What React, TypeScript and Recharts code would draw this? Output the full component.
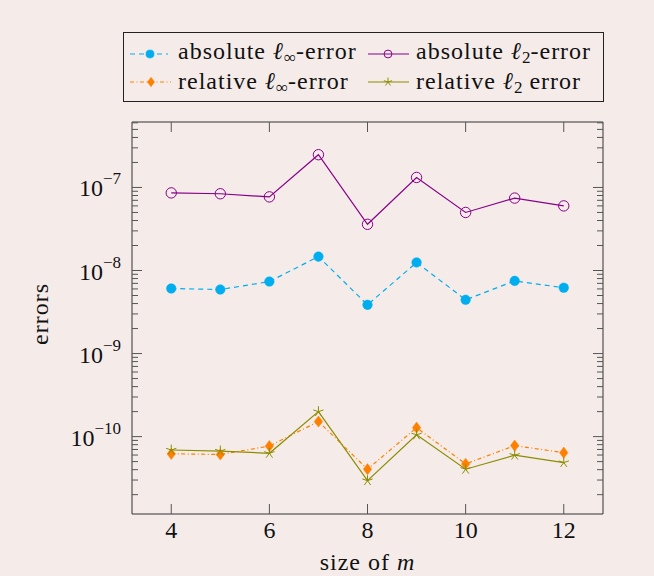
import React from "react";
import { LineChart, Line, XAxis, YAxis, Legend } from "recharts";

// size of m
const sizes = [4, 5, 6, 7, 8, 9, 10, 11, 12];
// errors
const absInf = [6.07e-9, 5.9e-9, 7.36e-9, 1.47e-8, 3.86e-9, 1.25e-8, 4.44e-9, 7.5e-9, 6.2e-9];
const absL2 = [8.6e-8, 8.4e-8, 7.7e-8, 2.48e-7, 3.6e-8, 1.32e-7, 5.0e-8, 7.45e-8, 6.0e-8];
const relInf = [6.2e-11, 6.1e-11, 7.7e-11, 1.52e-10, 4.05e-11, 1.28e-10, 4.69e-11, 7.8e-11, 6.4e-11];
const relL2 = [6.9e-11, 6.7e-11, 6.3e-11, 2.0e-10, 2.95e-11, 1.05e-10, 4.05e-11, 5.97e-11, 4.87e-11];

const xTicks = [4, 6, 8, 10, 12];
const yExponents = [-11, -10, -9, -8, -7];
const yLabelExponents = [-10, -9, -8, -7];
const mantissas = [1, 2, 3, 4, 5, 6, 7, 8, 9];

const X_DOMAIN = [3.2, 12.8];
const Y_DOMAIN = [1.17e-11, 6.14e-7];

const FONT = "Liberation Serif";
const BG = "#f5ecea";
const TICK = "#555";
const FRAME = "#333";
const INK = "#111";

const serif = (size: number, spacing = 0) => ({
  fontFamily: FONT,
  fontSize: size,
  letterSpacing: spacing,
});

const data = sizes.map((m, i) => ({
  m,
  absInf: absInf[i],
  absL2: absL2[i],
  relInf: relInf[i],
  relL2: relL2[i],
}));

const yTicks: number[] = [];
yExponents.forEach((e) => {
  mantissas.forEach((k) => {
    const v = k * Math.pow(10, e);
    if (v >= Y_DOMAIN[0] && v <= Y_DOMAIN[1]) yTicks.push(v);
  });
});

function isMajor(v: number) {
  const l = Math.log10(v);
  return Math.abs(l - Math.round(l)) < 1e-6;
}

function LeftTick(props: any) {
  const { x, y, payload } = props;
  const v = payload.value;
  const major = isMajor(v);
  const e = Math.round(Math.log10(v));
  const showLabel = major && yLabelExponents.includes(e);
  return (
    <g>
      <line x1={x} x2={x + (major ? 10 : 6)} y1={y} y2={y} stroke={TICK} strokeWidth={1} />
      {showLabel && (
        <text x={x - 11} y={y + 9} textAnchor="end" fill={INK} style={serif(24)}>
          10
          <tspan dy={-12} style={serif(17)}>
            {"\u2212" + String(-e)}
          </tspan>
        </text>
      )}
    </g>
  );
}

function RightTick(props: any) {
  const { x, y, payload } = props;
  const major = isMajor(payload.value);
  return <line x1={x} x2={x - (major ? 10 : 6)} y1={y} y2={y} stroke={TICK} strokeWidth={1} />;
}

function BottomTick(props: any) {
  const { x, y, payload } = props;
  return (
    <g>
      <line x1={x} x2={x} y1={y} y2={y - 10} stroke={TICK} strokeWidth={1} />
      <text x={x} y={y + 24} textAnchor="middle" fill={INK} style={serif(24)}>
        {payload.value}
      </text>
    </g>
  );
}

function TopTick(props: any) {
  const { x, y } = props;
  return <line x1={x} x2={x} y1={y} y2={y + 10} stroke={TICK} strokeWidth={1} />;
}

function XTitle(props: any) {
  const { viewBox } = props;
  const cx = viewBox.x + viewBox.width / 2;
  return (
    <text x={cx} y={570} textAnchor="middle" fill={INK} style={serif(24, 1)}>
      size of <tspan fontStyle="italic">m</tspan>
    </text>
  );
}

function YTitle() {
  return (
    <text x={48} y={314} transform="rotate(-90 48 314)" textAnchor="middle" fill={INK} style={serif(24, 1)}>
      errors
    </text>
  );
}

function FilledCircle(props: any) {
  const { cx, cy, size = 1 } = props;
  return <circle cx={cx} cy={cy} r={4.8 * size} fill="#00aeef" stroke="#00aeef" strokeWidth={0.5} />;
}

function OpenCircle(props: any) {
  const { cx, cy, size = 1 } = props;
  return <circle cx={cx} cy={cy} r={5.2 * size} fill="none" stroke="#880088" strokeWidth={1} />;
}

function Diamond(props: any) {
  const { cx, cy, size = 1 } = props;
  const w = 4.2 * size;
  const h = 5.6 * size;
  return (
    <path
      d={`M${cx},${cy - h}L${cx + w},${cy}L${cx},${cy + h}L${cx - w},${cy}Z`}
      fill="#ff8000"
      stroke="#ff8000"
      strokeWidth={0.5}
    />
  );
}

function StarMark(props: any) {
  const { cx, cy, size = 1 } = props;
  const r = 5.4 * size;
  const arms = [0, 1, 2, 3, 4].map((k) => {
    const a = ((-90 + 72 * k) * Math.PI) / 180;
    return (
      <line key={k} x1={cx} y1={cy} x2={cx + r * Math.cos(a)} y2={cy + r * Math.sin(a)} stroke="#8c8c00" strokeWidth={1} />
    );
  });
  return <g>{arms}</g>;
}

// legend entry label: "<word> ℓ_sub<tail>"
function EntryText({ x, y, word, sub, tail }: { x: number; y: number; word: string; sub: string; tail: string }) {
  return (
    <text x={x} y={y} fill={INK} style={serif(24, 1)}>
      {word} <tspan fontStyle="italic">ℓ</tspan>
      <tspan dy={4} style={serif(17)}>
        {sub}
      </tspan>
      <tspan dy={-4}>{tail}</tspan>
    </text>
  );
}

function LegendBox() {
  return (
    <svg width={481} height={70} style={{ display: "block" }}>
      <rect x={0.5} y={0.5} width={480} height={69} fill={BG} stroke="#222" strokeWidth={1} />
      {/* row 1 */}
      <line x1={7} x2={45} y1={22} y2={22} stroke="#00aeef" strokeWidth={1.2} strokeDasharray="5 4" />
      <FilledCircle cx={27} cy={22} size={0.85} />
      <EntryText x={55} y={27} word="absolute" sub="∞" tail="-error" />
      <line x1={245} x2={286} y1={22} y2={22} stroke="#880088" strokeWidth={1.2} />
      <OpenCircle cx={265} cy={22} size={0.75} />
      <EntryText x={293} y={27} word="absolute" sub="2" tail="-error" />
      {/* row 2 */}
      <line x1={7} x2={48} y1={50} y2={50} stroke="#ff8000" strokeWidth={1.2} strokeDasharray="4 2.5 1 2.5" />
      <Diamond cx={28} cy={50} size={0.85} />
      <EntryText x={55} y={57} word="relative" sub="∞" tail="-error" />
      <line x1={245} x2={286} y1={50} y2={50} stroke="#8c8c00" strokeWidth={1.2} />
      <StarMark cx={265} cy={50} size={0.8} />
      <EntryText x={293} y={57} word="relative" sub="2" tail=" error" />
    </svg>
  );
}

export default function App() {
  return (
    <div style={{ position: "absolute", left: 0, top: 0, width: 654, height: 576, background: BG }}>
      <LineChart width={654} height={576} data={data} margin={{ top: 112, right: 41, bottom: 22, left: 72 }}>
        <XAxis
          dataKey="m"
          type="number"
          domain={X_DOMAIN}
          ticks={xTicks}
          interval={0}
          allowDataOverflow
          height={40}
          tickSize={0}
          tickMargin={0}
          tick={<BottomTick />}
          axisLine={{ stroke: FRAME, strokeWidth: 1 }}
          tickLine={false}
          label={<XTitle />}
        />
        <XAxis
          xAxisId="top"
          dataKey="m"
          type="number"
          orientation="top"
          domain={X_DOMAIN}
          ticks={xTicks}
          interval={0}
          allowDataOverflow
          height={10}
          tickSize={0}
          tickMargin={0}
          tick={<TopTick />}
          axisLine={{ stroke: FRAME, strokeWidth: 1 }}
          tickLine={false}
        />
        <YAxis
          type="number"
          scale="log"
          domain={Y_DOMAIN}
          ticks={yTicks}
          interval={0}
          allowDataOverflow
          width={60}
          tickSize={0}
          tickMargin={0}
          tick={<LeftTick />}
          axisLine={{ stroke: FRAME, strokeWidth: 1 }}
          tickLine={false}
          label={<YTitle />}
        />
        <YAxis
          yAxisId="right"
          type="number"
          orientation="right"
          scale="log"
          domain={Y_DOMAIN}
          ticks={yTicks}
          interval={0}
          allowDataOverflow
          width={10}
          tickSize={0}
          tickMargin={0}
          tick={<RightTick />}
          axisLine={{ stroke: FRAME, strokeWidth: 1 }}
          tickLine={false}
        />
        <Legend
          layout="vertical"
          align="center"
          verticalAlign="middle"
          wrapperStyle={{ left: 123, top: 32, width: 481, height: 70 }}
          content={() => <LegendBox />}
        />
        <Line
          dataKey="absL2"
          stroke="#880088"
          strokeWidth={1.2}
          dot={(p: any) => <OpenCircle key={p.index} cx={p.cx} cy={p.cy} />}
          activeDot={false}
          isAnimationActive={false}
        />
        <Line
          dataKey="absInf"
          stroke="#00aeef"
          strokeWidth={1.2}
          strokeDasharray="5 4"
          dot={(p: any) => <FilledCircle key={p.index} cx={p.cx} cy={p.cy} />}
          activeDot={false}
          isAnimationActive={false}
        />
        <Line
          dataKey="relInf"
          stroke="#ff8000"
          strokeWidth={1.2}
          strokeDasharray="4 2.5 1 2.5"
          dot={(p: any) => <Diamond key={p.index} cx={p.cx} cy={p.cy} />}
          activeDot={false}
          isAnimationActive={false}
        />
        <Line
          dataKey="relL2"
          stroke="#8c8c00"
          strokeWidth={1.2}
          dot={(p: any) => <StarMark key={p.index} cx={p.cx} cy={p.cy} />}
          activeDot={false}
          isAnimationActive={false}
        />
      </LineChart>
    </div>
  );
}
